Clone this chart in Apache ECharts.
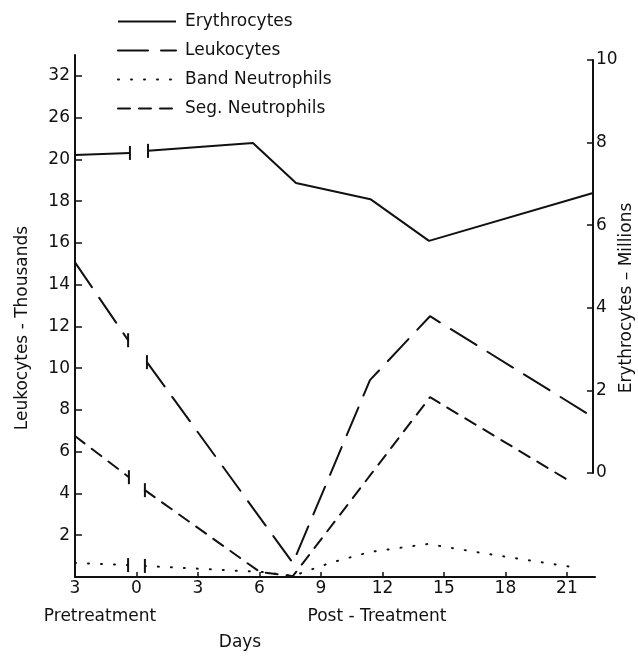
<!DOCTYPE html>
<html>
<head>
<meta charset="utf-8">
<script src="https://cdn.jsdelivr.net/npm/echarts@6/dist/echarts.min.js"></script>
<style>
  html, body { margin: 0; background: #fff; }
  #chart { width: 638px; height: 658px; }
</style>
</head>
<body>
<div id="chart"></div>
<script>
// days: -3 stands for the pretreatment "3"; the break sits between index 1 and 2
var erythroDays = [-3, -0.32, 0.56, 5.68, 7.78, 11.41, 14.27, 22.27];
var erythroVals = [7.70, 7.75, 7.80, 7.99, 7.02, 6.63, 5.62, 6.78];

var leukoDays = [-3, -0.41, 0.51, 7.63, 11.39, 14.32, 22.27];
var leukoVals = [15.07, 11.34, 10.29, 0.67, 9.43, 12.49, 7.66];

var bandDays = [-3, -0.41, 0.41, 6.12, 7.63, 9.44, 11.39, 14.22, 16.85, 19.34, 21.24];
var bandVals = [0.67, 0.57, 0.53, 0.24, 0.05, 0.67, 1.2, 1.58, 1.15, 0.77, 0.48];

var segDays = [-3, -0.37, 0.41, 6.02, 7.63, 14.32, 21.29];
var segVals = [6.75, 4.78, 4.16, 0.24, 0.04, 8.61, 4.5];

var xTickValues = [-3, 0, 3, 6, 9, 12, 15, 18, 21];
var xTickLabels = ['3', '0', '3', '6', '9', '12', '15', '18', '21'];
var leftTickValues = [2, 4, 6, 8, 10, 12, 14, 16, 18, 20, 22, 24];
var leftTickLabels = ['2', '4', '6', '8', '10', '12', '14', '16', '18', '20', '26', '32'];

var FONT = 'DejaVu Sans';
var INK = '#111';

// builds one series' data, with a gap and a small bar at each side of the break
function build(days, vals) {
  var out = [];
  for (var i = 0; i < days.length; i++) {
    var item = { value: [days[i], vals[i]] };
    if (i === 1 || i === 2) {
      item.symbol = 'rect';
      item.symbolSize = [2, 14];
    }
    out.push(item);
    if (i === 1) out.push({ value: ['-', '-'] });
  }
  return out;
}

function lineSeries(name, data, dash, xi, yi) {
  return {
    name: name,
    type: 'line',
    xAxisIndex: xi,
    yAxisIndex: yi,
    data: data,
    symbol: 'none',
    itemStyle: { color: INK },
    lineStyle: { color: INK, width: 2, type: dash, cap: dash === 'solid' ? 'butt' : 'round' },
    connectNulls: false,
    silent: true
  };
}

var chart = echarts.init(document.getElementById('chart'));

var option = {
  animation: false,
  backgroundColor: '#fff',
  legend: {
    orient: 'vertical',
    left: 117,
    top: 13,
    itemWidth: 58,
    itemHeight: 14,
    itemGap: 12,
    padding: 0,
    selectedMode: false,
    itemStyle: { opacity: 0, color: 'transparent', borderWidth: 0 },
    textStyle: { fontFamily: FONT, fontSize: 17, color: INK, padding: [0, 0, 0, 4] },
    data: ['Erythrocytes', 'Leukocytes', 'Band Neutrophils', 'Seg. Neutrophils']
  },
  grid: [
    { left: 75, right: 43, top: 55, bottom: 81 },
    { left: 75, right: 45, top: 60, bottom: 185 }
  ],
  xAxis: [{
    type: 'value',
    gridIndex: 0,
    min: -3,
    max: 22.37,
    axisLine: { show: true, onZero: false, lineStyle: { color: INK, width: 2 } },
    axisTick: { show: true, inside: true, length: 5, customValues: xTickValues, lineStyle: { color: INK, width: 1.5 } },
    axisLabel: {
      customValues: xTickValues,
      margin: 3,
      fontFamily: FONT, fontSize: 17, color: INK,
      formatter: function (v) {
        var k = xTickValues.indexOf(v);
        return k < 0 ? '' : xTickLabels[k];
      }
    },
    splitLine: { show: false }
  }, {
    type: 'value',
    gridIndex: 1,
    min: -3,
    max: 22.27,
    show: false
  }],
  yAxis: [{
    type: 'value',
    gridIndex: 0,
    position: 'left',
    min: 0,
    max: 25,
    axisLine: { show: true, onZero: false, lineStyle: { color: INK, width: 2 } },
    axisTick: { show: true, inside: true, length: 7, customValues: leftTickValues, lineStyle: { color: INK, width: 1.5 } },
    axisLabel: {
      customValues: leftTickValues,
      margin: 5,
      fontFamily: FONT, fontSize: 17, color: INK,
      formatter: function (v) {
        var k = leftTickValues.indexOf(v);
        return k < 0 ? '' : leftTickLabels[k];
      }
    },
    splitLine: { show: false }
  }, {
    type: 'value',
    gridIndex: 1,
    position: 'right',
    min: 0,
    max: 10,
    interval: 2,
    axisLine: { show: true, onZero: false, lineStyle: { color: INK, width: 2 } },
    axisTick: { show: true, inside: true, length: 6, lineStyle: { color: INK, width: 1.5 } },
    axisLabel: { margin: 3, fontFamily: FONT, fontSize: 17, color: INK },
    splitLine: { show: false }
  }],
  graphic: [
    { type: 'text', x: 100, y: 617, style: { text: 'Pretreatment', font: '17px "DejaVu Sans"', fill: INK, align: 'center', verticalAlign: 'middle' } },
    { type: 'text', x: 377, y: 617, style: { text: 'Post - Treatment', font: '17px "DejaVu Sans"', fill: INK, align: 'center', verticalAlign: 'middle' } },
    { type: 'text', x: 240, y: 643, style: { text: 'Days', font: '17px "DejaVu Sans"', fill: INK, align: 'center', verticalAlign: 'middle' } },
    { type: 'text', x: 23, y: 328, rotation: Math.PI / 2, style: { text: 'Leukocytes - Thousands', font: '17px "DejaVu Sans"', fill: INK, align: 'center', verticalAlign: 'middle' } },
    { type: 'text', x: 627, y: 298, rotation: Math.PI / 2, style: { text: 'Erythrocytes \u2013 Millions', font: '17px "DejaVu Sans"', fill: INK, align: 'center', verticalAlign: 'middle' } }
  ],
  series: [
    lineSeries('Erythrocytes', build(erythroDays, erythroVals), 'solid', 1, 1),
    lineSeries('Leukocytes', build(leukoDays, leukoVals), [30, 13], 0, 0),
    lineSeries('Band Neutrophils', build(bandDays, bandVals), [1, 12], 0, 0),
    lineSeries('Seg. Neutrophils', build(segDays, segVals), [12, 9], 0, 0)
  ]
};

chart.setOption(option);
</script>
</body>
</html>
